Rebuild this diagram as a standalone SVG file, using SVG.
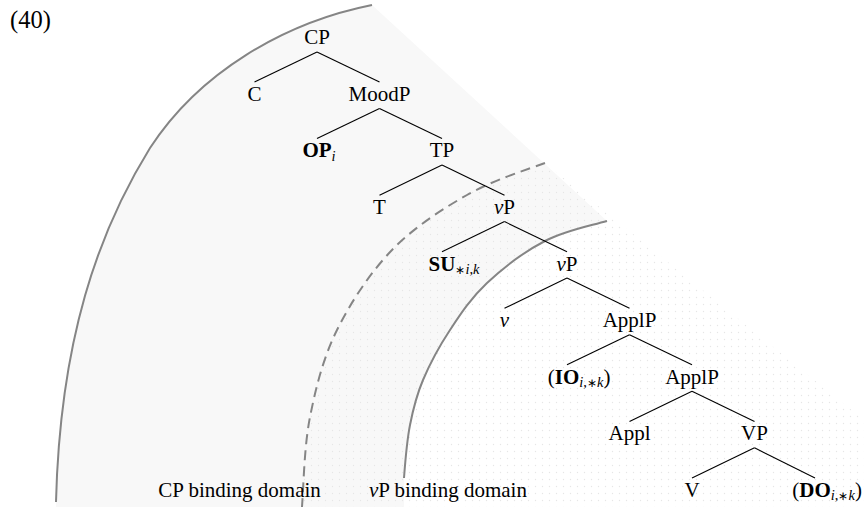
<svg xmlns="http://www.w3.org/2000/svg" width="864" height="507" viewBox="0 0 864 507">
  <style>
    text { font-family: "Liberation Serif", "Times New Roman", serif; font-size: 21px; fill: #000; }
    .c { text-anchor: middle; }
    .b { font-weight: bold; }
    .it { font-style: italic; }
    .sub { font-size: 14.5px; }
    .ast { font-size: 12px; }
    .edge { stroke: #000; stroke-width: 1.1; fill: none; }
    .arc { stroke: #858585; stroke-width: 2; fill: none; }
    .dash { stroke-dasharray: 10 6; }
  </style>
  <defs>
    <pattern id="dots" width="7" height="7" patternUnits="userSpaceOnUse">
      <circle cx="3.5" cy="3.5" r="0.7" fill="#e6e6e6"/>
    </pattern>
  </defs>

  <rect width="864" height="507" fill="#fff"/>

  <!-- domain shading -->
  <g id="domains">
    <!-- CP domain: between the outer arc and the vP arc -->
    <path fill="#f8f8f8" d="M56,507 L56,502 C60,340 98,232 150,148 C199,72.6 283.8,22.6 372,5 L607,221 C586.2,226.8 565,230.7 545,241 C525,251.3 502.8,268.2 487,283 C471.2,297.8 460.7,313.8 450,330 C439.3,346.2 429.7,364.2 423,380 C416.3,395.8 413.2,408.7 410,425 C406.8,441.3 405.3,460.5 404,478 L404,507 Z"/>
    <!-- dotted band to the right of the dashed arc -->
    <path fill="url(#dots)" d="M545,163 C522.8,171 492.5,180.5 467,195 C441.5,209.5 413.7,227.5 392,250 C370.3,272.5 350.7,302.2 337,330 C323.3,357.8 315.8,387.5 310,417 C304.2,446.5 303.7,483.2 302,507 L864,507 L864,420 Z"/>
  </g>

  <!-- domain boundaries -->
  <g id="boundaries">
    <path class="arc" d="M372,5 C283.8,22.6 199,72.6 150,148 C98,232 60,340 56,502"/>
    <path class="arc dash" d="M545,163 C522.8,171 492.5,180.5 467,195 C441.5,209.5 413.7,227.5 392,250 C370.3,272.5 350.7,302.2 337,330 C323.3,357.8 315.8,387.5 310,417 C304.2,446.5 303.7,483.2 302,507"/>
    <path class="arc" d="M607,221 C586.2,226.8 565,230.7 545,241 C525,251.3 502.8,268.2 487,283 C471.2,297.8 460.7,313.8 450,330 C439.3,346.2 429.7,364.2 423,380 C416.3,395.8 413.2,408.7 410,425 C406.8,441.3 405.3,460.5 404,478"/>
  </g>

  <!-- tree branches -->
  <g id="edges">
    <line class="edge" x1="317" y1="51.9" x2="254.5" y2="82.1"/>
    <line class="edge" x1="317" y1="51.9" x2="379.5" y2="82.1"/>
    <line class="edge" x1="379.5" y1="108.5" x2="317" y2="138.6"/>
    <line class="edge" x1="379.5" y1="108.5" x2="442" y2="138.6"/>
    <line class="edge" x1="442" y1="165" x2="379.5" y2="195.2"/>
    <line class="edge" x1="442" y1="165" x2="504.5" y2="195.2"/>
    <line class="edge" x1="504.5" y1="221.6" x2="442" y2="251.7"/>
    <line class="edge" x1="504.5" y1="221.6" x2="567" y2="251.7"/>
    <line class="edge" x1="567" y1="278.1" x2="504.5" y2="308.3"/>
    <line class="edge" x1="567" y1="278.1" x2="629.5" y2="308.3"/>
    <line class="edge" x1="629.5" y1="334.7" x2="567" y2="364.8"/>
    <line class="edge" x1="629.5" y1="334.7" x2="692" y2="364.8"/>
    <line class="edge" x1="692" y1="391.2" x2="629.5" y2="421.4"/>
    <line class="edge" x1="692" y1="391.2" x2="754.5" y2="421.4"/>
    <line class="edge" x1="754.5" y1="447.8" x2="692" y2="477.9"/>
    <line class="edge" x1="754.5" y1="447.8" x2="815" y2="477.9"/>
  </g>

  <text id="exnum" x="10" y="28" style="font-size:24.5px">(40)</text>

  <g id="n-CP"><text class="c" x="317" y="44.3">CP</text></g>
  <g id="n-C"><text class="c" x="254.5" y="100.9">C</text></g>
  <g id="n-MoodP"><text class="c" x="379.5" y="100.9">MoodP</text></g>
  <g id="n-OP"><text x="302.4" y="157.4"><tspan class="b">OP</tspan><tspan class="sub it" dy="3.5">i</tspan></text></g>
  <g id="n-TP"><text class="c" x="442" y="157.4">TP</text></g>
  <g id="n-T"><text class="c" x="379.5" y="214">T</text></g>
  <g id="n-vP1"><text class="c" x="504.5" y="214"><tspan class="it">v</tspan>P</text></g>
  <g id="n-SU"><text x="428.6" y="270.5"><tspan class="b">SU</tspan><tspan class="sub" dy="3.5"><tspan class="ast">∗</tspan><tspan class="it">i</tspan>,<tspan class="it">k</tspan></tspan></text></g>
  <g id="n-vP2"><text class="c" x="567" y="270.5"><tspan class="it">v</tspan>P</text></g>
  <g id="n-v"><text class="c it" x="504.5" y="327.1">v</text></g>
  <g id="n-ApplP1"><text class="c" x="629.5" y="327.1">ApplP</text></g>
  <g id="n-IO"><text x="547.8" y="383.6">(<tspan class="b">IO</tspan><tspan class="sub" dy="3.5"><tspan class="it">i</tspan>,<tspan class="ast">∗</tspan><tspan class="it">k</tspan></tspan><tspan dy="-3.5">)</tspan></text></g>
  <g id="n-ApplP2"><text class="c" x="692" y="383.6">ApplP</text></g>
  <g id="n-Appl"><text class="c" x="629.5" y="440.2">Appl</text></g>
  <g id="n-VP"><text class="c" x="754.5" y="440.2">VP</text></g>
  <g id="n-V"><text class="c" x="692" y="496.7">V</text></g>
  <g id="n-DO"><text x="792.3" y="496.7">(<tspan class="b">DO</tspan><tspan class="sub" dy="3.5"><tspan class="it">i</tspan>,<tspan class="ast">∗</tspan><tspan class="it">k</tspan></tspan><tspan dy="-3.5">)</tspan></text></g>

  <g id="domain-labels">
    <text x="158.3" y="496.7">CP binding domain</text>
    <text x="369" y="496.7"><tspan class="it">v</tspan>P binding domain</text>
  </g>
</svg>
